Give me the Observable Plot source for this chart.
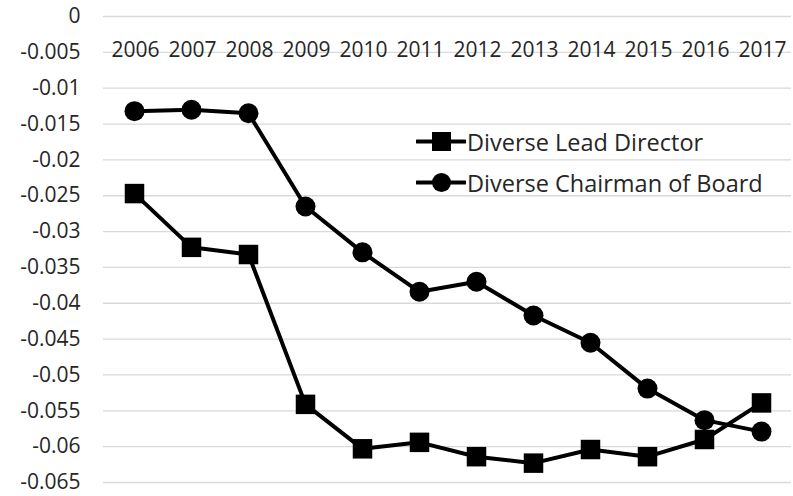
<!DOCTYPE html>
<html>
<head>
<meta charset="utf-8">
<script src="https://cdn.jsdelivr.net/npm/d3@7"></script>
<script src="https://cdn.jsdelivr.net/npm/@observablehq/plot@0.6"></script>
<style>
  body { margin: 0; background: #fff; }
  #chart { position: relative; width: 793px; height: 496px; font-family: "Open Sans", sans-serif; }
  .legend { position: absolute; left: 416px; top: 121px; font-size: 23.5px; color: #262626; }
  .legend .item { display: flex; align-items: center; height: 41px; }
  .legend svg { margin-right: 1px; }
</style>
</head>
<body>
<div id="chart"></div>
<script>
// Years shown along the top axis
const years = ["2006","2007","2008","2009","2010","2011","2012","2013","2014","2015","2016","2017"];

// Coefficient estimates per year
const leadDirector = [-0.0247, -0.0322, -0.0332, -0.0541, -0.0603, -0.0594, -0.0614, -0.0623, -0.0604, -0.0614, -0.0590, -0.0539];
const chairman     = [-0.0132, -0.0130, -0.0135, -0.0265, -0.0329, -0.0384, -0.0370, -0.0417, -0.0455, -0.0519, -0.0563, -0.0579];

// Series names
const seriesNames = ["Diverse Lead Director", "Diverse Chairman of Board"];

// Y axis ticks and their labels
const yTicks = [0, -0.005, -0.01, -0.015, -0.02, -0.025, -0.03, -0.035, -0.04, -0.045, -0.05, -0.055, -0.06, -0.065];
const yTickLabels = ["0", "-0.005", "-0.01", "-0.015", "-0.02", "-0.025", "-0.03", "-0.035", "-0.04", "-0.045", "-0.05", "-0.055", "-0.06", "-0.065"];

const rows = [
  ...years.map((year, i) => ({year, value: leadDirector[i], series: seriesNames[0]})),
  ...years.map((year, i) => ({year, value: chairman[i], series: seriesNames[1]}))
];

const textColor = "#262626";

const chart = Plot.plot({
  width: 793,
  height: 496,
  marginLeft: 103,
  marginRight: 2,
  marginTop: 16,
  marginBottom: 14,
  style: {fontFamily: "'Open Sans', sans-serif", fontSize: "21px", color: textColor, background: "#fff"},
  x: {type: "point", domain: years, padding: 0.5},
  y: {domain: [-0.065, 0]},
  marks: [
    Plot.gridY(yTicks, {stroke: "#d9d9d9", strokeOpacity: 1, strokeWidth: 1.3}),
    Plot.axisY(yTicks, {
      tickSize: 0, tickPadding: 23, fontSize: 21, fill: textColor,
      tickFormat: d => yTickLabels[yTicks.indexOf(d)], label: null
    }),
    Plot.axisX({
      anchor: "top", tickSize: 0, tickPadding: 0, lineAnchor: "middle", dy: 34, dx: 1,
      fontSize: 21, fill: textColor, label: null
    }),
    Plot.line(rows, {x: "year", y: "value", z: "series", stroke: "#000", strokeWidth: 4, curve: "linear"}),
    Plot.dot(rows.filter(d => d.series === seriesNames[0]), {x: "year", y: "value", symbol: "square", r: 11, fill: "#000", stroke: "none"}),
    Plot.dot(rows.filter(d => d.series === seriesNames[1]), {x: "year", y: "value", symbol: "circle", r: 10, fill: "#000", stroke: "none"})
  ]
});

const container = document.getElementById("chart");
container.appendChild(chart);

// Legend entries: line with a marker in the middle, then the series name
const legend = document.createElement("div");
legend.className = "legend";
const symbols = [
  '<rect x="16" y="1" width="19" height="19" fill="#000"/>',
  '<circle cx="25.5" cy="10.5" r="9.5" fill="#000"/>'
];
seriesNames.forEach((name, i) => {
  const item = document.createElement("div");
  item.className = "item";
  item.innerHTML = `<svg width="50" height="21" viewBox="0 0 50 21"><line x1="1" x2="49" y1="10.5" y2="10.5" stroke="#000" stroke-width="4" stroke-linecap="round"/>${symbols[i]}</svg><span>${name}</span>`;
  legend.appendChild(item);
});
container.appendChild(legend);
</script>
</body>
</html>
